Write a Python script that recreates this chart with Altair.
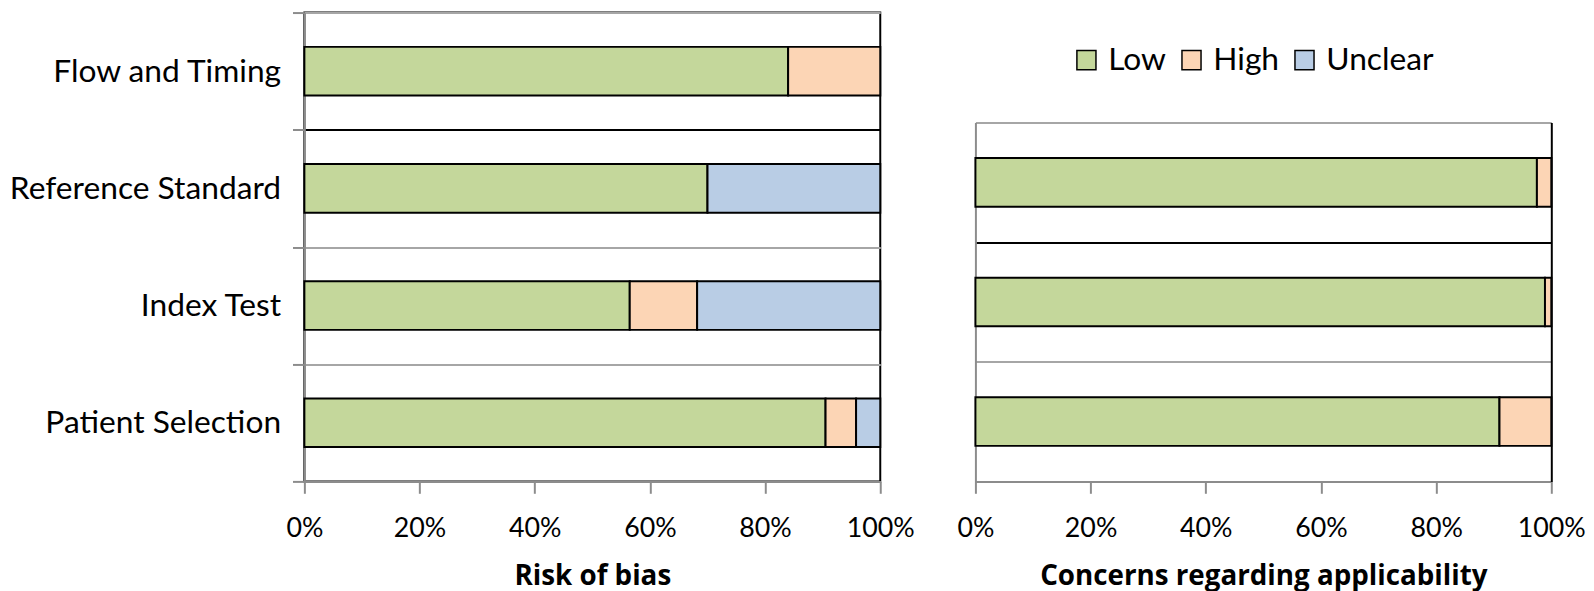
import altair as alt
import pandas as pd

FONT = "Lato"
TITLE_FONT = "Open Sans"

levels = ["Low", "High", "Unclear"]
level_colors = ["#C4D79B", "#FCD5B5", "#B9CDE5"]

rob_domains = ["Flow and Timing", "Reference Standard", "Index Test", "Patient Selection"]
rob_low = [0.84, 0.70, 0.565, 0.905]
rob_high = [0.16, 0.0, 0.117, 0.053]
rob_unclear = [0.0, 0.30, 0.318, 0.042]

app_domains = ["Reference Standard", "Index Test", "Patient Selection"]
app_low = [0.975, 0.989, 0.91]
app_high = [0.025, 0.011, 0.09]
app_unclear = [0.0, 0.0, 0.0]

x_ticks = [0, 0.2, 0.4, 0.6, 0.8, 1.0]


def long_table(domains, low, high, unclear):
    rows = []
    for i, d in enumerate(domains):
        for j, (lvl, vals) in enumerate(zip(levels, [low, high, unclear])):
            if vals[i] > 0:
                rows.append({"domain": d, "level": lvl, "value": vals[i], "ord": j})
    return pd.DataFrame(rows)


rob_df = long_table(rob_domains, rob_low, rob_high, rob_unclear)
app_df = long_table(app_domains, app_low, app_high, app_unclear)

GRID = "#a6a6a6"
AXIS = "#8c8c8c"
grid_color = {"condition": {"test": "datum.index === 0", "value": "black"}, "value": GRID}
cat_label_size = {"condition": {"test": "!datum.label", "value": 0}, "value": 32}

color_scale = alt.Scale(domain=levels, range=level_colors)

H = 473
W = 581
RIGHT_TOP = 111
BAR = 49


def x_enc(title):
    return alt.X(
        "value:Q",
        stack="normalize",
        scale=alt.Scale(domain=[0, 1], nice=False),
        axis=alt.Axis(
            format=".0%", values=x_ticks, title=title, grid=False, labelFlush=False,
            domainColor=AXIS, domainWidth=2, tickColor=AXIS, tickWidth=2, tickSize=12,
            labelFontSize=27, labelFont=FONT, labelColor="black", labelPadding=23,
            titleFontSize=28, titleFont=TITLE_FONT, titleFontWeight="bold",
            titleColor="black", titlePadding=21,
        ),
    )


left = alt.Chart(rob_df).mark_bar(stroke="black", strokeWidth=2, size=BAR).encode(
    x=x_enc("Risk of bias"),
    y=alt.Y(
        "domain:N", sort=rob_domains,
        scale=alt.Scale(paddingInner=0, paddingOuter=0),
        axis=alt.Axis(
            title=None, tickBand="extent", grid=True, gridColor=grid_color, gridWidth=2,
            domainColor=AXIS, domainWidth=2, tickColor=AXIS, tickWidth=2, tickSize=12,
            labelFontSize=cat_label_size, labelFont=FONT, labelColor="black", labelPadding=12,
            labelLimit=400, minExtent=296, maxExtent=296,
        ),
    ),
    color=alt.Color("level:N", scale=color_scale, legend=None),
    order=alt.Order("ord:Q", sort="ascending"),
).properties(width=W, height=H, view=alt.ViewBackground(stroke="black", strokeWidth=2))

right_y_scale = alt.Scale(range=[RIGHT_TOP, H], paddingInner=0, paddingOuter=0)

right_bars = alt.Chart(app_df).mark_bar(stroke="black", strokeWidth=2, size=BAR).encode(
    x=x_enc("Concerns regarding applicability"),
    y=alt.Y(
        "domain:N", sort=app_domains, scale=right_y_scale,
        axis=alt.Axis(
            title=None, tickBand="extent", grid=True, gridColor=grid_color, gridWidth=2,
            domainColor=AXIS, domainWidth=2, ticks=False, labels=False,
        ),
    ),
    color=alt.Color(
        "level:N", scale=color_scale,
        legend=alt.Legend(
            orient="none", legendX=96, legendY=32, direction="horizontal", title=None,
            symbolType="square", symbolSize=370, symbolStrokeColor="black",
            symbolStrokeWidth=1.5, symbolOpacity=1, labelFontSize=32, labelFont=FONT,
            labelColor="black", columnPadding=9, padding=0, labelOffset=6,
        ),
    ),
    order=alt.Order("ord:Q", sort="ascending"),
)

right_edge = alt.Chart(app_df).mark_bar(opacity=0).encode(
    x=x_enc("Concerns regarding applicability"),
    y=alt.Y(
        "domain:N", sort=app_domains, scale=right_y_scale,
        axis=alt.Axis(
            orient="right", title=None, grid=False, ticks=False, labels=False,
            domainColor="black", domainWidth=2,
        ),
    ),
)

right = alt.layer(right_bars, right_edge).resolve_axis(y="independent").properties(
    width=W, height=H, view=alt.ViewBackground(strokeOpacity=0)
)

chart = alt.hconcat(left, right, spacing=41).resolve_legend(
    color="independent"
).properties(padding=0, background="white")

chart.save("out.html", embed_options={"renderer": "svg", "actions": False})
